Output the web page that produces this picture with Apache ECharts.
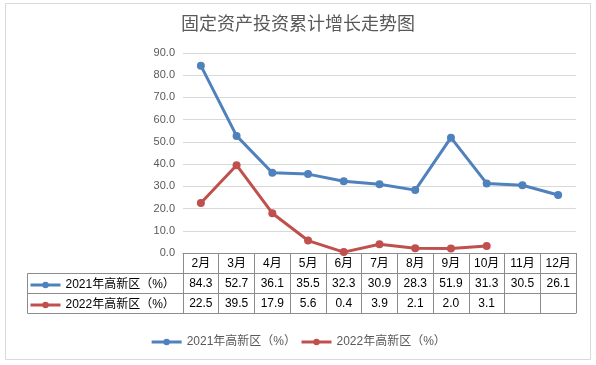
<!DOCTYPE html>
<html><head><meta charset="utf-8">
<script src="https://cdn.jsdelivr.net/npm/echarts@6/dist/echarts.min.js"></script>
<style>html,body{margin:0;padding:0;background:#fff}#c{width:596px;height:365px}</style>
</head><body><div id="c"></div>
<script>
const titleText = '固定资产投资累计增长走势图';
const months = ['2月','3月','4月','5月','6月','7月','8月','9月','10月','11月','12月'];
const name2021 = '2021年高新区（%）';
const name2022 = '2022年高新区（%）';
const s2021 = [84.3, 52.7, 36.1, 35.5, 32.3, 30.9, 28.3, 51.9, 31.3, 30.5, 26.1];
const s2022 = [22.5, 39.5, 17.9, 5.6, 0.4, 3.9, 2.1, 2.0, 3.1, null, null];
const yTicks = [0, 10, 20, 30, 40, 50, 60, 70, 80, 90];

const FONT = '"Liberation Sans","Noto Sans CJK SC",sans-serif';
const fmt = v => (v === null || v === undefined) ? '' : v.toFixed(1);
const tableLine = '#8C8C8C';

const chart = echarts.init(document.getElementById('c'));
const rowAxis = (offset, arr, showLabel) => ({
  type: 'category', gridIndex: 0, data: months, position: 'bottom', offset: offset,
  axisLine: {show: true, lineStyle: {color: tableLine, width: 1}},
  axisTick: {show: false},
  axisLabel: {show: showLabel, interval: 0, margin: 5, color: '#000', fontSize: 12, fontFamily: FONT,
    formatter: (v, i) => arr ? fmt(arr[i]) : ''},
  splitLine: {show: false}
});
chart.setOption({
  animation: false,
  title: {text: titleText, left: 'center', top: 11,
    textStyle: {fontSize: 18, fontWeight: 'normal', color: '#595959', fontFamily: FONT}},
  grid: {left: 183, right: 20, top: 53, bottom: 112},
  legend: [
    {data: [name2021, name2022], bottom: 17, left: 'center', itemWidth: 30, itemHeight: 8, itemGap: 4,
      lineStyle: {width: 3}, padding: 0,
      textStyle: {color: '#595959', fontSize: 12, fontFamily: FONT}},
    {data: [name2021, name2022], orient: 'vertical', left: 29, top: 278, padding: 0,
      itemWidth: 30, itemHeight: 8, itemGap: 6, lineStyle: {width: 3},
      textStyle: {color: '#000', fontSize: 12, lineHeight: 14, height: 14, fontFamily: FONT}}
  ],
  xAxis: [
    {type: 'category', gridIndex: 0, data: months, position: 'bottom', boundaryGap: true,
      axisLine: {show: true, lineStyle: {color: tableLine, width: 1}},
      axisTick: {show: true, interval: 0, length: 60, lineStyle: {color: tableLine, width: 1}},
      axisLabel: {interval: 0, margin: 5, color: '#000', fontSize: 12, fontFamily: FONT},
      splitLine: {show: false}},
    rowAxis(20, s2021, true),
    rowAxis(40, s2022, true),
    rowAxis(60, null, false)
  ],
  yAxis: {type: 'value', min: yTicks[0], max: yTicks[yTicks.length - 1], interval: 10,
    axisLine: {show: false}, axisTick: {show: false},
    axisLabel: {margin: 8, color: '#595959', fontSize: 11, fontFamily: FONT, formatter: v => fmt(v)},
    splitLine: {lineStyle: {color: '#D9D9D9', width: 1}}},
  series: [
    {name: name2021, type: 'line', data: s2021, xAxisIndex: 0, symbol: 'circle', symbolSize: 8,
      lineStyle: {width: 3, color: '#4F81BD'}, itemStyle: {color: '#4F81BD'}},
    {name: name2022, type: 'line', data: s2022, xAxisIndex: 0, symbol: 'circle', symbolSize: 8,
      lineStyle: {width: 3, color: '#C0504D'}, itemStyle: {color: '#C0504D'}}
  ],
  graphic: [
    {type: 'rect', shape: {x: 5.5, y: 3.5, width: 585, height: 356}, style: {fill: 'none', stroke: '#D9D9D9', lineWidth: 1}, silent: true, z: -1},
    {type: 'line', shape: {x1: 27.5, y1: 273.5, x2: 183, y2: 273.5}, style: {stroke: tableLine, lineWidth: 1}},
    {type: 'line', shape: {x1: 27.5, y1: 293.5, x2: 183, y2: 293.5}, style: {stroke: tableLine, lineWidth: 1}},
    {type: 'line', shape: {x1: 27.5, y1: 313.5, x2: 183, y2: 313.5}, style: {stroke: tableLine, lineWidth: 1}},
    {type: 'line', shape: {x1: 27.5, y1: 273.5, x2: 27.5, y2: 313.5}, style: {stroke: tableLine, lineWidth: 1}}
  ]
});
</script></body></html>
